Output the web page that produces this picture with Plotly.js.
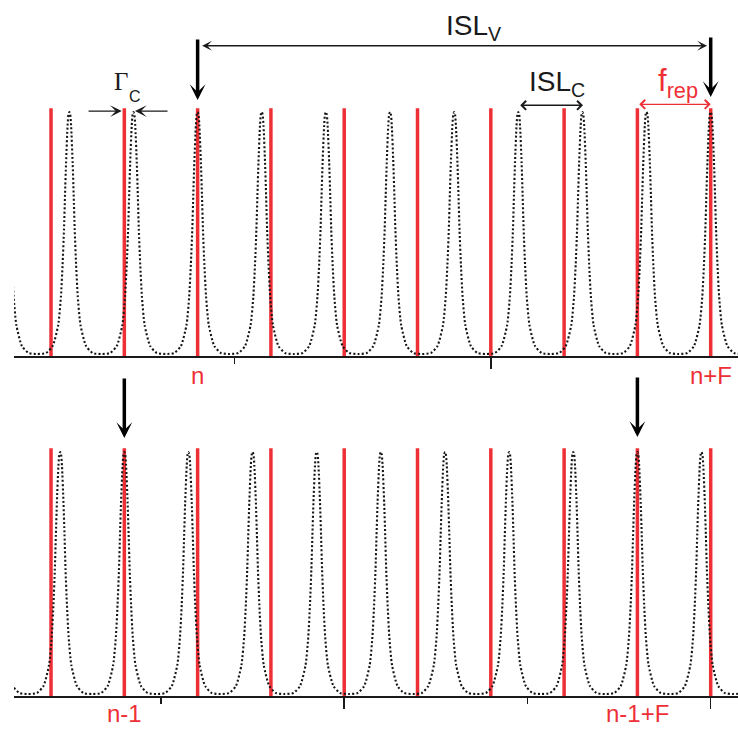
<!DOCTYPE html>
<html>
<head>
<meta charset="utf-8">
<script src="https://cdn.plot.ly/plotly-3.0.1.min.js"></script>
<style>html,body{margin:0;padding:0;background:#fff;}#chart{width:738px;height:729px;}</style>
</head>
<body>
<div id="chart"></div>
<script>
// ---- data (x in units of comb spacing, comb line n at 0) ----
const COMB_LINES = [-2, -1, 0, 1, 2, 3, 4, 5, 6, 7];
const TOP_CAVITY_PEAKS = [-2.625, -1.75, -0.875, 0, 0.875, 1.75, 2.625, 3.5, 4.375, 5.25, 6.125, 7.0, 7.875];
const BOTTOM_CAVITY_PEAKS = [-2.75, -1.875, -1, -0.125, 0.75, 1.625, 2.5, 3.375, 4.25, 5.125, 6.0, 6.875, 7.75];
// one cavity resonance: offset from centre, relative height
const PROFILE_OFFSET = [0, 0.012, 0.024, 0.045, 0.059, 0.073, 0.092, 0.115, 0.152, 0.228, 0.318, 0.4375];
const PROFILE_HEIGHT = [0.985, 0.975, 0.93, 0.78, 0.65, 0.51, 0.37, 0.24, 0.125, 0.04, 0.012, 0.008];
const TOP_MAJOR_TICKS = [4];
const TOP_MINOR_TICKS = [0.5];
const BOTTOM_MAJOR_TICKS = [2, 7];
const BOTTOM_MINOR_TICKS = [-0.5, 4.5];
const TOP_LABELS = ['n', 'n+F'];
const TOP_LABEL_POS = [0, 7];
const BOTTOM_LABELS = ['n-1', 'n-1+F'];
const BOTTOM_LABEL_POS = [-1, 6];

const RED = '#ee3036';
const INK = '#1a1a1a';
const SANS = 'Liberation Sans, Arial, sans-serif';

function combTrace(xa, ya) {
  const xs = [], ys = [];
  COMB_LINES.forEach(c => { xs.push(c, c, null); ys.push(0, 1, null); });
  return {x: xs, y: ys, xaxis: xa, yaxis: ya, type: 'scatter', mode: 'lines',
          line: {color: RED, width: 3.5}, hoverinfo: 'skip'};
}
function cavityTrace(peaks, xa, ya) {
  const xs = [], ys = [];
  const N = PROFILE_OFFSET.length;
  peaks.forEach((c, k) => {
    const start = (k === 0) ? N - 1 : N - 2;
    for (let i = start; i >= 1; i--) { xs.push(c - PROFILE_OFFSET[i]); ys.push(PROFILE_HEIGHT[i]); }
    for (let i = 0; i < N; i++) { xs.push(c + PROFILE_OFFSET[i]); ys.push(PROFILE_HEIGHT[i]); }
  });
  return {x: xs, y: ys, xaxis: xa, yaxis: ya, type: 'scatter', mode: 'lines',
          line: {color: '#151515', width: 2.1, dash: '2px,2.2px', shape: 'spline', smoothing: 0.6}, hoverinfo: 'skip'};
}

const data = [
  combTrace('x', 'y'), cavityTrace(TOP_CAVITY_PEAKS, 'x', 'y'),
  combTrace('x2', 'y2'), cavityTrace(BOTTOM_CAVITY_PEAKS, 'x2', 'y2')
];

const XR = [-2.5048, 7.3724];
function xAxis(anchor, major, minor) {
  return {domain: [0.019, 1], range: XR, anchor: anchor, showgrid: false, zeroline: false,
    showline: true, linecolor: INK, linewidth: 2, ticks: 'outside', ticklen: 11, tickwidth: 1.5,
    tickcolor: INK, tickmode: 'array', tickvals: major, showticklabels: false, fixedrange: true,
    minor: {ticks: 'outside', ticklen: 6, tickwidth: 1.5, tickcolor: INK, tickmode: 'array', tickvals: minor, showgrid: false}};
}

// helpers for annotations
function arrow(xref, x, y, ax, opts) {
  return Object.assign({xref: xref, yref: 'paper', x: x, y: y, axref: xref, ax: ax, ayref: 'pixel', ay: 0,
    text: '', showarrow: true, arrowhead: 3, arrowside: 'end+start', arrowwidth: 1.5, arrowsize: 1.1,
    arrowcolor: INK, standoff: 0, startstandoff: 0, font: {size: 1}, borderpad: 0}, opts || {});
}
function down(xref, x, y, len) {
  return {xref: xref, yref: 'paper', x: x, y: y, axref: 'pixel', ax: 0, ayref: 'pixel', ay: -len,
    text: '', showarrow: true, arrowhead: 3, arrowwidth: 3.5, arrowsize: 0.75, arrowcolor: '#000',
    standoff: 0, font: {size: 1}, borderpad: 0};
}
function label(xref, x, y, text, size, color, anchor, family) {
  return {xref: xref, yref: 'paper', x: x, y: y, text: text, showarrow: false,
    xanchor: anchor || 'center', yanchor: 'middle',
    font: {family: family || SANS, size: size, color: color}};
}

const annotations = [
  // ISL_V
  arrow('x', 6.95, 0.9373, 0.055),
  label('x', 3.361, 0.962, 'ISL<sub>V</sub>', 28, INK, 'left'),
  down('x', 0, 0.8628, 61),
  down('x', 7, 0.8669, 60),
  // Gamma_C
  arrow('x', -1.035, 0.8477, -1.495, {arrowside: 'end', arrowwidth: 1.3, arrowsize: 1.5}),
  arrow('x', -0.854, 0.8477, -0.404, {arrowside: 'end', arrowwidth: 1.3, arrowsize: 1.5}),
  label('x', -1.04, 0.888, 'Γ', 25, INK, 'center', 'Liberation Serif, Times New Roman, serif'),
  label('x', -0.852, 0.867, 'C', 16, INK, 'center'),
  // ISL_C
  arrow('x', 5.258, 0.8556, 4.394, {arrowhead: 4, arrowwidth: 1.3, arrowsize: 1.35}),
  label('x', 4.489, 0.885, 'ISL<sub>C</sub>', 28, INK, 'left'),
  // f_rep
  arrow('x', 7.0, 0.8569, 6.018, {arrowhead: 4, arrowwidth: 1.3, arrowsize: 1.35, arrowcolor: RED}),
  label('x', 6.25, 0.886, 'f<sub>rep</sub>', 31, RED, 'left'),
  // bottom arrows
  down('x2', -1, 0.3992, 60),
  down('x2', 6, 0.4006, 60)
];
TOP_LABELS.forEach((t, i) => annotations.push(label('x', TOP_LABEL_POS[i], 0.4845, t, 24, RED)));
BOTTOM_LABELS.forEach((t, i) => annotations.push(label('x2', BOTTOM_LABEL_POS[i], 0.0215, t, 24, RED)));

const layout = {
  width: 738, height: 729, margin: {l: 0, r: 0, t: 0, b: 0, pad: 0},
  paper_bgcolor: '#fff', plot_bgcolor: '#fff', showlegend: false, hovermode: false,
  font: {family: SANS},
  xaxis: xAxis('y', TOP_MAJOR_TICKS, TOP_MINOR_TICKS),
  xaxis2: xAxis('y2', BOTTOM_MAJOR_TICKS, BOTTOM_MINOR_TICKS),
  yaxis: {domain: [0.5117, 1], range: [0, 1.437], visible: false, fixedrange: true},
  yaxis2: {domain: [0.04527, 0.4925], range: [0, 1.316], visible: false, fixedrange: true},
  annotations: annotations
};
Plotly.newPlot('chart', data, layout, {displayModeBar: false, staticPlot: true});
</script>
</body>
</html>
